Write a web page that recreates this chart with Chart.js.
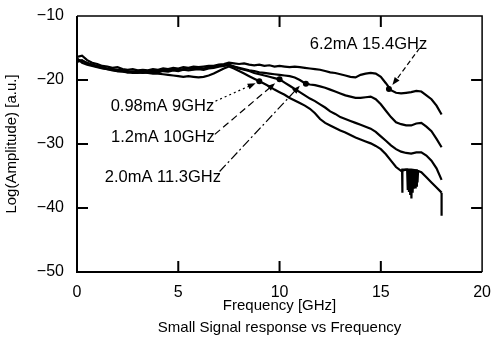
<!DOCTYPE html>
<html>
<head>
<meta charset="utf-8">
<script src="https://cdn.jsdelivr.net/npm/chart.js@4.4.1/dist/chart.umd.min.js"></script>
<style>
  html, body { margin: 0; padding: 0; background: #fff; }
  #wrap { width: 502px; height: 346px; }
</style>
</head>
<body>
<div id="wrap"><canvas id="responseChart"></canvas></div>
<script>
// frequency grid [GHz], shared by the four traces
const freq = [0, 0.25, 0.5, 0.75, 1, 1.25, 1.5, 1.75, 2, 2.25, 2.5, 2.75, 3, 3.25, 3.5, 3.75, 4, 4.25, 4.5, 4.75,
  5, 5.25, 5.5, 5.75, 6, 6.25, 6.5, 6.75, 7, 7.25, 7.5, 7.75, 8, 8.25, 8.5, 8.75, 9, 9.25, 9.5, 9.75,
  10, 10.25, 10.5, 10.75, 11, 11.25, 11.5, 11.75, 12, 12.25, 12.5, 12.75, 13, 13.25, 13.5, 13.75, 14, 14.25, 14.5, 14.75,
  15, 15.25, 15.5, 15.75, 16, 16.25, 16.5, 16.75, 17, 17.25, 17.5, 17.75, 18];

// log(amplitude) per bias current
const amp62 = [-16.4, -16.2, -16.9, -17.3, -17.5, -17.8, -17.9, -18.1, -18.0, -18.3, -18.4, -18.3, -18.5, -18.4, -18.5, -18.3, -18.4, -18.2, -18.3, -18.1,
  -18.2, -18.0, -18.1, -17.9, -18.0, -17.9, -17.8, -17.8, -17.6, -17.5, -17.3, -17.4, -17.5, -17.4, -17.6, -17.7, -17.6, -17.8, -17.7, -17.9,
  -17.8, -17.9, -18.0, -17.9, -18.0, -18.1, -18.2, -18.3, -18.4, -18.6, -18.8, -18.9, -19.1, -19.3, -19.5, -19.6, -19.2, -19.0, -18.9, -19.0,
  -19.5, -20.5, -21.6, -22.0, -22.1, -22.0, -21.9, -21.7, -21.8, -22.4, -23.0, -24.0, -25.4];
const amp20 = [-16.8, -17.0, -17.3, -17.6, -17.8, -18.0, -18.2, -18.3, -18.4, -18.5, -18.6, -18.7, -18.6, -18.7, -18.6, -18.5, -18.6, -18.4, -18.5, -18.3,
  -18.4, -18.3, -18.2, -18.3, -18.1, -18.2, -18.0, -17.9, -17.8, -17.7, -17.6, -17.9, -18.1, -18.3, -18.5, -18.6, -18.8, -18.9, -19.0, -19.1,
  -19.2, -19.3, -19.4, -19.6, -20.0, -20.5, -20.7, -20.8, -21.0, -21.2, -21.5, -21.8, -22.1, -22.4, -22.6, -22.8, -22.8, -22.7, -22.6, -23.0,
  -23.8, -24.8, -25.8, -26.6, -26.9, -27.1, -27.1, -26.8, -26.7, -27.3, -28.0, -29.2, -30.5];
const amp12 = [-17.2, -16.9, -17.4, -17.7, -17.9, -18.1, -18.3, -18.4, -18.6, -18.6, -18.8, -18.7, -18.8, -18.9, -18.8, -18.7, -18.8, -18.6, -18.7, -18.5,
  -18.6, -18.4, -18.5, -18.4, -18.3, -18.4, -18.2, -18.1, -17.9, -17.8, -17.7, -17.9, -18.2, -18.4, -18.6, -18.9, -19.1, -19.3, -19.5, -19.7,
  -19.9, -20.4, -20.9, -21.4, -21.9, -22.4, -22.9, -23.3, -23.8, -24.3, -24.9, -25.3, -25.8, -26.1, -26.4, -26.7, -27.0, -27.3, -27.6, -28.1,
  -28.8, -29.5, -30.2, -30.8, -31.2, -31.4, -31.5, -31.3, -31.3, -31.8, -32.6, -33.8, -35.6];
const amp098 = [-16.6, -17.3, -17.6, -17.8, -18.0, -18.2, -18.3, -18.5, -18.6, -18.7, -18.8, -18.9, -18.9, -18.8, -18.9, -19.0, -19.0, -19.1, -19.2, -19.3,
  -19.4, -19.5, -19.4, -19.5, -19.6, -19.5, -19.3, -19.0, -18.6, -18.2, -17.9, -18.2, -18.6, -19.0, -19.4, -19.8, -20.2, -20.6, -21.0, -21.5,
  -21.9, -22.3, -22.8, -23.2, -23.6, -24.0, -24.5, -25.2, -26.1, -26.7, -27.1, -27.5, -27.9, -28.2, -28.6, -29.0, -29.3, -29.6, -29.9, -30.3,
  -30.8, -31.6, -32.6, -33.6, -34.2, -34.0, -34.0, -34.1, -34.4, -35.2, -36.0, -36.8, -37.6];

// noise burst and dropout on the 0.98mA trace
const burstFreq = [16.05, 16.06, 16.07, 16.3, 16.33, 16.36, 16.39, 16.42, 16.45, 16.48, 16.51, 16.54, 16.57, 16.6, 16.63, 16.66, 16.69, 16.72, 16.75, 16.78, 16.81, 16.84];
const burstAmp = [-34.0, -37.6, -34.0, -34.0, -37.2, -34.0, -37.5, -34.0, -37.8, -34.0, -38.5, -34.0, -37.6, -34.1, -37.0, -34.0, -36.8, -34.1, -36.5, -34.0, -36.0, -34.1];
const tailFreq = [18, 18];
const tailAmp = [-37.6, -41.2];

// -3dB markers
const markFreq = [9, 10, 11.3, 15.4];
const markAmp = [-20.2, -19.9, -20.6, -21.4];

// annotations
const noteText = ['0.98mA 9GHz', '1.2mA 10GHz', '2.0mA 11.3GHz', '6.2mA 15.4GHz'];
const noteAt = [[4.22, -24.1], [4.24, -29.0], [4.24, -35.3], [14.39, -14.4]];
const arrowFrom = [[6.84, -23.3], [6.8, -28.5], [7.04, -34.3], [16.92, -15.0]];
const arrowTo = [[8.82, -20.5], [9.78, -20.5], [11.0, -20.9], [15.57, -20.8]];
const arrowDash = [[2, 3], [7, 4], [9, 3, 2, 3], [5, 3]];

// axes
const xTicks = [0, 5, 10, 15, 20];
const yTicks = [-50, -40, -30, -20, -10];
const yTickText = ['\u221250', '\u221240', '\u221230', '\u221220', '\u221210'];

const pts = (xs, ys) => xs.map((x, i) => ({ x: x, y: ys[i] }));
const trace = (label, xs, ys) => ({
  label: label,
  data: pts(xs, ys),
  showLine: true,
  borderColor: '#000',
  borderWidth: 2.2,
  pointRadius: 0,
  tension: 0,
});

const font = 'Liberation Sans, Arial, Helvetica, sans-serif';

const frame = {
  id: 'frame',
  afterDatasetsDraw(chart) {
    const { ctx, chartArea: a, scales: { x, y } } = chart;
    ctx.save();
    ctx.strokeStyle = '#000';
    ctx.fillStyle = '#000';

    // box
    ctx.lineWidth = 2;
    ctx.beginPath();
    ctx.moveTo(a.left, a.top); ctx.lineTo(a.left, a.bottom); ctx.lineTo(a.right, a.bottom);
    ctx.stroke();
    ctx.lineWidth = 1.5;
    ctx.beginPath();
    ctx.moveTo(a.left, a.top); ctx.lineTo(a.right, a.top); ctx.lineTo(a.right, a.bottom);
    ctx.stroke();

    // inward ticks
    ctx.lineWidth = 2;
    const len = 11;
    xTicks.slice(1, -1).forEach(v => {
      const px = x.getPixelForValue(v);
      ctx.beginPath();
      ctx.moveTo(px, a.bottom); ctx.lineTo(px, a.bottom - len);
      ctx.moveTo(px, a.top); ctx.lineTo(px, a.top + len);
      ctx.stroke();
    });
    yTicks.slice(1, -1).forEach(v => {
      const py = y.getPixelForValue(v);
      ctx.beginPath();
      ctx.moveTo(a.left, py); ctx.lineTo(a.left + len, py);
      ctx.moveTo(a.right, py); ctx.lineTo(a.right - len, py);
      ctx.stroke();
    });

    // labels and arrows
    ctx.font = '16.5px ' + font;
    ctx.textAlign = 'center';
    ctx.textBaseline = 'middle';
    noteText.forEach((t, i) => {
      ctx.fillText(t, x.getPixelForValue(noteAt[i][0]), y.getPixelForValue(noteAt[i][1]));
      const x0 = x.getPixelForValue(arrowFrom[i][0]), y0 = y.getPixelForValue(arrowFrom[i][1]);
      const x1 = x.getPixelForValue(arrowTo[i][0]), y1 = y.getPixelForValue(arrowTo[i][1]);
      const ang = Math.atan2(y1 - y0, x1 - x0);
      ctx.lineWidth = 1.2;
      ctx.setLineDash(arrowDash[i]);
      ctx.beginPath();
      ctx.moveTo(x0, y0);
      ctx.lineTo(x1 - 5 * Math.cos(ang), y1 - 5 * Math.sin(ang));
      ctx.stroke();
      ctx.setLineDash([]);
      ctx.beginPath();
      ctx.moveTo(x1, y1);
      ctx.lineTo(x1 - 8 * Math.cos(ang) + 3 * Math.sin(ang), y1 - 8 * Math.sin(ang) - 3 * Math.cos(ang));
      ctx.lineTo(x1 - 8 * Math.cos(ang) - 3 * Math.sin(ang), y1 - 8 * Math.sin(ang) + 3 * Math.cos(ang));
      ctx.closePath();
      ctx.fill();
    });
    ctx.restore();
  }
};

new Chart(document.getElementById('responseChart'), {
  type: 'scatter',
  data: {
    datasets: [
      trace('6.2mA', freq, amp62),
      trace('2.0mA', freq, amp20),
      trace('1.2mA', freq, amp12),
      trace('0.98mA', freq, amp098),
      trace('0.98mA burst', burstFreq, burstAmp),
      trace('0.98mA tail', tailFreq, tailAmp),
      {
        label: 'markers',
        data: pts(markFreq, markAmp),
        backgroundColor: '#000',
        borderWidth: 0,
        pointRadius: 3,
      },
    ],
  },
  options: {
    responsive: true,
    maintainAspectRatio: false,
    animation: false,
    layout: { padding: { left: 0, right: 10, top: 16, bottom: 0 } },
    plugins: {
      legend: { display: false },
      tooltip: { enabled: false },
    },
    scales: {
      x: {
        type: 'linear',
        min: 0,
        max: 20,
        afterBuildTicks: s => { s.ticks = xTicks.map(v => ({ value: v })); },
        afterFit: s => { s.height = 74; },
        grid: { display: false, drawTicks: false },
        border: { display: false },
        ticks: { color: '#000', padding: 11, maxRotation: 0, font: { family: font, size: 16 } },
        title: {
          display: true,
          text: ['Frequency [GHz]', 'Small Signal response vs Frequency'],
          color: '#000',
          font: { family: font, size: 15, lineHeight: 1.47 },
          padding: { top: 0, bottom: 7 },
        },
      },
      y: {
        type: 'linear',
        min: -50,
        max: -10,
        afterBuildTicks: s => { s.ticks = yTicks.map(v => ({ value: v })); },
        afterFit: s => { s.width = 77; s.paddingTop = 0; s.paddingBottom = 0; },
        grid: { display: false, drawTicks: false },
        border: { display: false },
        ticks: {
          color: '#000',
          padding: 13,
          font: { family: font, size: 16 },
          callback: v => yTickText[yTicks.indexOf(v)],
        },
        title: {
          display: true,
          text: 'Log(Amplitude) [a.u.]',
          color: '#000',
          font: { family: font, size: 15 },
          padding: { top: 3, bottom: 0 },
        },
      },
    },
  },
  plugins: [frame],
});
</script>
</body>
</html>
